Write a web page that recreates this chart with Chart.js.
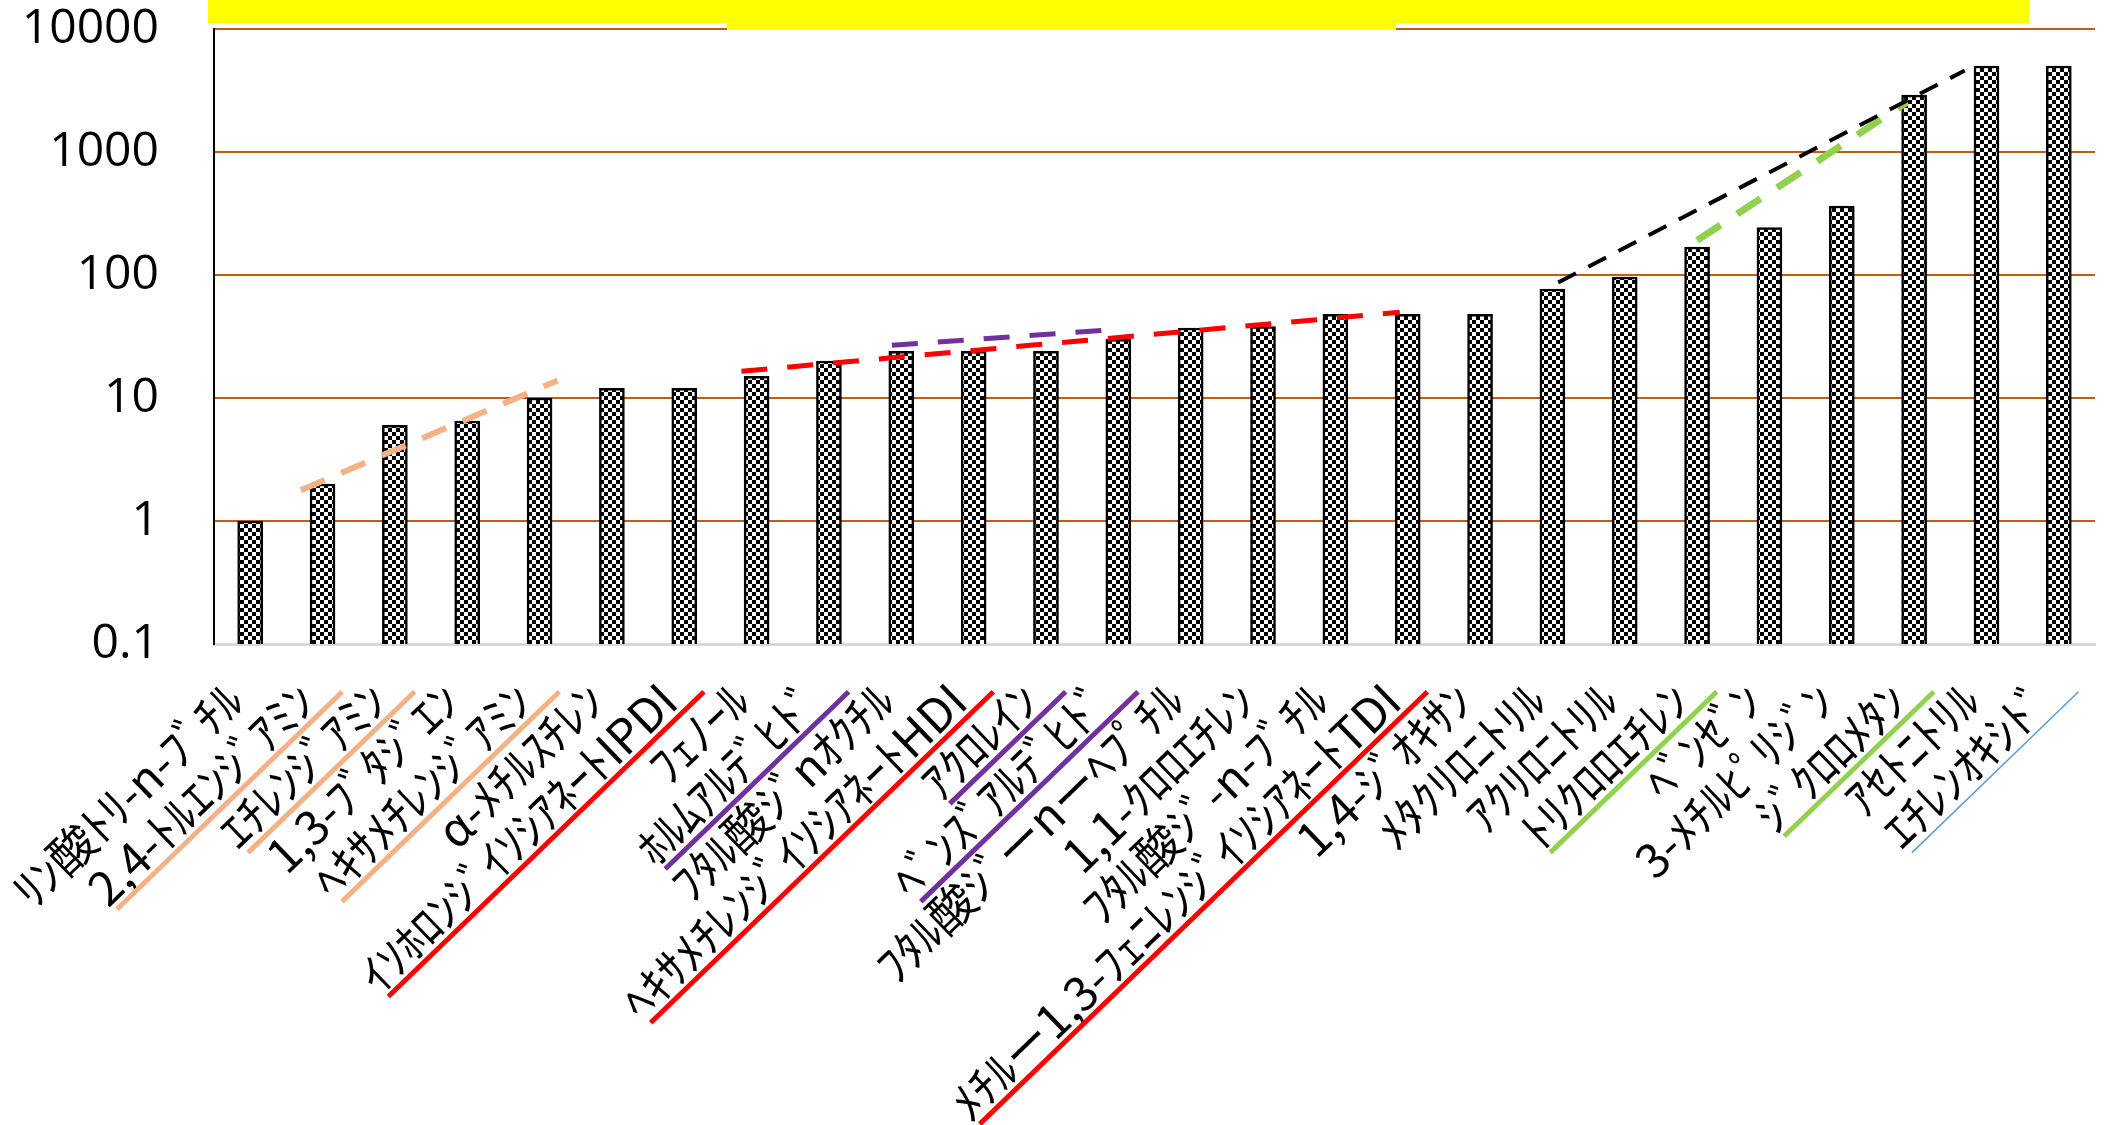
<!DOCTYPE html>
<html>
<head>
<meta charset="utf-8">
<script src="https://cdn.jsdelivr.net/npm/chart.js@4.4.1/dist/chart.umd.min.js"></script>
<style>
  html, body { margin: 0; padding: 0; background: #fff; }
  #wrap { width: 2104px; height: 1125px; position: relative; }
</style>
</head>
<body>
<div id="wrap"><canvas id="chart"></canvas></div>
<script>
// 物質名（半角カナ）
const categories = [
    'ﾘﾝ酸ﾄﾘ-n-ﾌﾞﾁﾙ', '2,4-ﾄﾙｴﾝｼﾞｱﾐﾝ', 'ｴﾁﾚﾝｼﾞｱﾐﾝ', '1,3-ﾌﾞﾀｼﾞｴﾝ',
    'ﾍｷｻﾒﾁﾚﾝｼﾞｱﾐﾝ', 'α-ﾒﾁﾙｽﾁﾚﾝ', 'ｲｿﾎﾛﾝｼﾞｲｿｼｱﾈｰﾄIPDI', 'ﾌｪﾉｰﾙ',
    'ﾎﾙﾑｱﾙﾃﾞﾋﾄﾞ', 'ﾌﾀﾙ酸ｼﾞnｵｸﾁﾙ', 'ﾍｷｻﾒﾁﾚﾝｼﾞｲｿｼｱﾈｰﾄHDI', 'ｱｸﾛﾚｲﾝ',
    'ﾍﾞﾝｽﾞｱﾙﾃﾞﾋﾄﾞ', 'ﾌﾀﾙ酸ｼﾞーnーﾍﾌﾟﾁﾙ', '1,1-ｸﾛﾛｴﾁﾚﾝ', 'ﾌﾀﾙ酸ｼﾞ-n-ﾌﾞﾁﾙ',
    'ﾒﾁﾙー1,3-ﾌｪﾆﾚﾝｼﾞｲｿｼｱﾈｰﾄTDI', '1,4-ｼﾞｵｷｻﾝ', 'ﾒﾀｸﾘﾛﾆﾄﾘﾙ', 'ｱｸﾘﾛﾆﾄﾘﾙ',
    'ﾄﾘｸﾛﾛｴﾁﾚﾝ', 'ﾍﾞﾝｾﾞﾝ', '3-ﾒﾁﾙﾋﾟﾘｼﾞﾝ', 'ｼﾞｸﾛﾛﾒﾀﾝ',
    'ｱｾﾄﾆﾄﾘﾙ', 'ｴﾁﾚﾝｵｷｼﾄﾞ'
];

const values = [
    1, 2, 6, 6.5, 10, 12, 12, 15,
    20, 24, 24, 24, 30, 37, 38, 48,
    48, 48, 77, 96, 169, 243, 364, 2900,
    5000, 5000
];

const yTicks = [0.1, 1, 10, 100, 1000, 10000];

// 傾向線（x はカテゴリ番号、y は値）
const trendOrange = [{x: 0.70, y: 1.78}, {x: 4.25, y: 13.9}];
const trendRed = [{x: 6.79, y: 16.5}, {x: 15.89, y: 49.8}];
const trendPurple = [{x: 8.87, y: 26.8}, {x: 11.80, y: 35.5}];
const trendBlack = [{x: 18.08, y: 87}, {x: 23.7, y: 4600}];
const trendGreen = [{x: 20.0, y: 191}, {x: 22.9, y: 2540}];

// ラベルの下線グループ
const underlineOrange = [1, 2, 4];
const underlineRed = [6, 10, 16];
const underlinePurple = [8, 11, 12];
const underlineGreen = [20, 23];
const underlineBlue = [25];

// 市松模様
function checker() {
    const c = document.createElement('canvas');
    c.width = 8; c.height = 8;
    const g = c.getContext('2d');
    g.fillStyle = '#fff';
    g.fillRect(0, 0, 8, 8);
    g.fillStyle = '#000';
    g.fillRect(0, 0, 4, 4);
    g.fillRect(4, 4, 4, 4);
    return g.createPattern(c, 'repeat');
}

function trend(data, color, width, dash) {
    return {
        type: 'line',
        data: data,
        xAxisID: 'xl',
        borderColor: color,
        borderWidth: width,
        borderDash: dash,
        pointRadius: 0,
        fill: false,
        order: 0
    };
}

const underlines = {
    id: 'underlines',
    afterDraw(chart) {
        const items = chart.scales.x.getLabelItems();
        const ctx = chart.ctx;
        const groups = [
            [underlineOrange, '#F4B183', 5],
            [underlineRed, '#FF0000', 5],
            [underlinePurple, '#7030A0', 5],
            [underlineGreen, '#92D050', 5],
            [underlineBlue, '#5B9BD5', 1.5]
        ];
        groups.forEach(([idx, color, width]) => {
            idx.forEach(i => {
                const it = items[i];
                const [tx, ty] = it.options.translation;
                ctx.save();
                ctx.translate(tx, ty);
                ctx.rotate(it.options.rotation);
                ctx.font = it.font.string;
                const w = ctx.measureText(it.label).width;
                const off = it.textOffset + it.font.size * 0.52;
                ctx.strokeStyle = color;
                ctx.lineWidth = width;
                ctx.beginPath();
                ctx.moveTo(-w + 6, off);
                ctx.lineTo(26, off);
                ctx.stroke();
                ctx.restore();
            });
        });

        // 上部の黄色帯
        ctx.save();
        ctx.fillStyle = '#FFFF00';
        ctx.fillRect(208, 0, 1821, 23);
        ctx.fillRect(727, 0, 669, 30);
        ctx.restore();
    }
};

const chart = new Chart(document.getElementById('chart'), {
    type: 'bar',
    data: {
        labels: categories,
        datasets: [
            {
                data: values,
                backgroundColor: checker(),
                borderColor: '#000',
                borderWidth: 2.5,
                barThickness: 25,
                grouped: false,
                order: 1
            },
            trend(trendOrange, '#F4B183', 6, [26, 18]),
            trend(trendRed, '#FF0000', 5, [26, 20]),
            trend(trendPurple, '#7030A0', 5, [26, 20]),
            trend(trendBlack, '#000000', 4, [20, 14]),
            trend(trendGreen, '#92D050', 7, [28, 20])
        ]
    },
    options: {
        responsive: true,
        maintainAspectRatio: false,
        animation: false,
        layout: {
            padding: {top: 29, right: 9, left: 0, bottom: 0}
        },
        plugins: {
            legend: {display: false},
            tooltip: {enabled: false}
        },
        scales: {
            x: {
                type: 'category',
                offset: true,
                grid: {display: false, drawTicks: false},
                border: {color: '#D9D9D9', width: 3},
                ticks: {
                    autoSkip: false,
                    minRotation: 44,
                    maxRotation: 44,
                    padding: 28,
                    labelOffset: -16,
                    color: '#000',
                    font: {family: '"Noto Sans CJK JP"', size: 47}
                },
                afterFit(scale) {
                    scale.height = 481;
                    scale.paddingLeft = 0;
                    scale.paddingRight = 0;
                }
            },
            xl: {
                type: 'linear',
                display: false,
                offset: false,
                min: -0.5,
                max: 25.5
            },
            y: {
                type: 'logarithmic',
                min: 0.1,
                max: 10000,
                afterBuildTicks(scale) {
                    scale.ticks = yTicks.map(v => ({value: v}));
                },
                grid: {
                    drawTicks: true,
                    tickLength: 55,
                    tickColor: 'rgba(0,0,0,0)',
                    lineWidth: 2,
                    color: ctx => ctx.tick && ctx.tick.value === 0.1 ? 'rgba(0,0,0,0)' : '#C55A11'
                },
                border: {color: '#000', width: 2},
                ticks: {
                    padding: 0,
                    color: '#000',
                    font: {family: '"Open Sans"', size: 48},
                    callback: v => String(v)
                },
                afterFit(scale) {
                    scale.width = 214;
                }
            }
        }
    },
    plugins: [underlines]
});
</script>
</body>
</html>
